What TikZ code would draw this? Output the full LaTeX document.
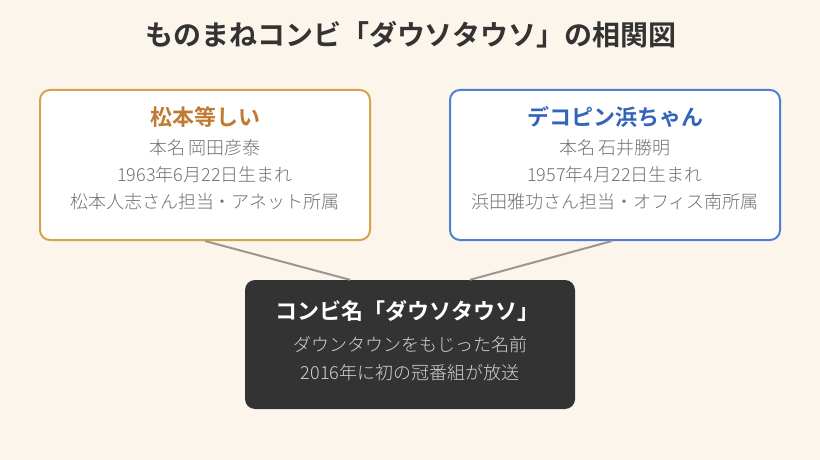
\documentclass[tikz,border=0pt]{standalone}
\usepackage{fontspec}
\setmainfont{Noto Sans CJK JP}[BoldFont={Noto Sans CJK JP Bold}]
\newfontfamily\lightfont{Noto Sans CJK JP Light}
\definecolor{bg}{HTML}{FCF5EC}
\definecolor{gold}{HTML}{D6A24C}
\definecolor{goldtxt}{HTML}{C07A32}
\definecolor{blueb}{HTML}{4D80D0}
\definecolor{bluetxt}{HTML}{3464BA}
\definecolor{dark}{HTML}{333333}
\definecolor{bodytxt}{HTML}{707070}
\definecolor{lighttxt}{HTML}{D2D2D2}
\definecolor{conn}{HTML}{9C9690}
\tikzset{
  card/.style={rounded corners=10pt, line width=2pt, fill=white, minimum width=330pt, minimum height=150pt, inner sep=0pt},
  darkcard/.style={rounded corners=10pt, fill=dark, minimum width=330pt, minimum height=129pt, inner sep=0pt},
  headtxt/.style={font=\bfseries\fontsize{22}{26}\selectfont, inner sep=0pt},
  bodyt/.style={font=\lightfont\fontsize{18}{21}\selectfont, text=bodytxt, inner sep=0pt},
  link/.style={draw=conn, line width=2pt},
}
\begin{document}
\begin{tikzpicture}[x=1pt,y=-1pt]
\fill[bg] (0,0) rectangle (820,460);
\useasboundingbox (0,0) rectangle (820,460);
\node[font=\bfseries\fontsize{28}{32}\selectfont, text=dark, inner sep=0pt] (title) at (411,35) {ものまねコンビ「ダウソタウソ」の相関図};
% cards
\node[card, draw=gold] (left) at (205,165) {};
\node[card, draw=blueb] (right) at (615,165) {};
\node[darkcard] (bot) at (410,344.5) {};
% connectors
\draw[link] (left.south) -- ([xshift=-60pt]bot.north);
\draw[link] ([xshift=-3pt]right.south) -- ([xshift=60pt]bot.north);
% left text
\node[headtxt, text=goldtxt] (lh) at (205,117) {松本等しい};
\node[bodyt] (l1) at (205,148) {本名 岡田彦泰};
\node[bodyt] (l2) at (205,175) {1963年6月22日生まれ};
\node[bodyt] (l3) at (205,202) {松本人志さん担当・アネット所属};
% right text
\node[headtxt, text=bluetxt] (rh) at (615,117) {デコピン浜ちゃん};
\node[bodyt] (r1) at (615,148) {本名 石井勝明};
\node[bodyt] (r2) at (615,175) {1957年4月22日生まれ};
\node[bodyt] (r3) at (615,202) {浜田雅功さん担当・オフィス南所属};
% bottom text
\node[headtxt, text=white] (bh) at (407,311) {コンビ名「ダウソタウソ」};
\node[bodyt, text=lighttxt] (b1) at (410,345) {ダウンタウンをもじった名前};
\node[bodyt, text=lighttxt] (b2) at (410,373) {2016年に初の冠番組が放送};
\end{tikzpicture}
\end{document}
